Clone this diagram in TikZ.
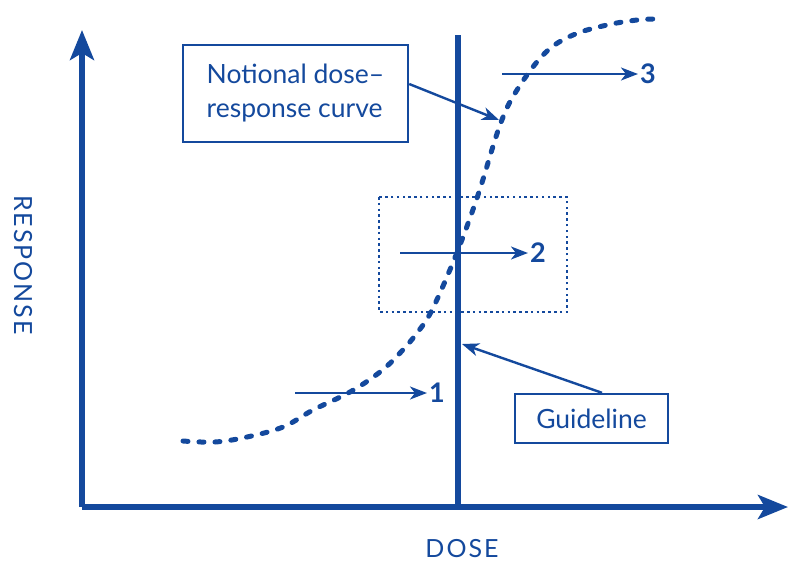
\documentclass[tikz,border=0pt]{standalone}
\usepackage{fontspec}
\setmainfont{Lato}
\usetikzlibrary{arrows.meta}
\definecolor{doseblue}{RGB}{20,73,157}

\begin{document}
\begin{tikzpicture}[x=1pt,y=1pt,yscale=-1,
    axis/.style={draw=doseblue,line width=5.5pt,-{Stealth[length=30pt,width=24pt,inset=7pt]}},
    flow/.style={draw=doseblue,line width=2.4pt,-{Stealth[length=17pt,width=13pt,inset=5pt]}},
    labelbox/.style={draw=doseblue,line width=2.4pt,text=doseblue,inner sep=0pt,font=\fontsize{26.5}{34}\selectfont},
    caption/.style={text=doseblue,inner sep=0pt,font=\fontsize{25}{26}\selectfont\addfontfeatures{LetterSpace=8}},
    stage/.style={text=doseblue,inner sep=2pt,font=\fontsize{27}{30}\selectfont\bfseries}]
  \useasboundingbox (0,0) rectangle (789,562);

  %Axes
  \coordinate (origin) at (82,507);
  \coordinate (ytop) at (82,30);
  \coordinate (xend) at (788,507);
  \draw[axis] (origin) -- (ytop);
  \draw[axis] (origin) -- (xend);
  \node[caption,rotate=-90] (ylab) at (23,265) {RESPONSE};
  \node[caption] (xlab) at (462,549) {DOSE};

  %Guideline
  \coordinate (gbot) at (458,507);
  \coordinate (gtop) at (458,35);
  \draw[doseblue,line width=5.5pt] (gbot) -- (gtop);

  %Dotted box round stage 2
  \draw[doseblue,line width=2.5pt,dash pattern=on 2.5pt off 3.3pt] (379,197) rectangle (567,312);

  %Notional curve
  \draw[doseblue,line width=5pt,line cap=round,dash pattern=on 5pt off 11pt]
    plot[smooth,tension=0.6] coordinates {(183,441) (215,442) (247,437) (283,427) (313,410) (350,392)
      (380,372) (400,353) (417,333) (432,310) (456,255) (478,195) (500,125) (517,90) (545,53)
      (573,35) (607,25) (637,20) (655,19)};

  %Stages
  \coordinate (s1) at (295,393);
  \coordinate (s2) at (400,253);
  \coordinate (s3) at (502,74);
  \node[stage] (lab1) at (437,393) {1};
  \node[stage] (lab2) at (538,253) {2};
  \node[stage] (lab3) at (648,74) {3};
  \draw[flow] (s1) -- (lab1.west);
  \draw[flow] (s2) -- (lab2.west);
  \draw[flow] (s3) -- (lab3.west);

  %Boxes
  \node[labelbox,minimum width=225pt,minimum height=97pt,align=left] (curvebox) at (295.5,93.5) {Notional dose–\\response curve};
  \node[labelbox,minimum width=153pt,minimum height=49pt] (guidebox) at (591.5,418.5) {Guideline};
  \coordinate (ctip) at (499,120);
  \coordinate (gtip) at (462,344);
  \draw[flow] ([yshift=-9.5pt]curvebox.east) -- (ctip);
  \draw[flow] ([xshift=10.5pt]guidebox.north) -- (gtip);

\end{tikzpicture}
\end{document}
